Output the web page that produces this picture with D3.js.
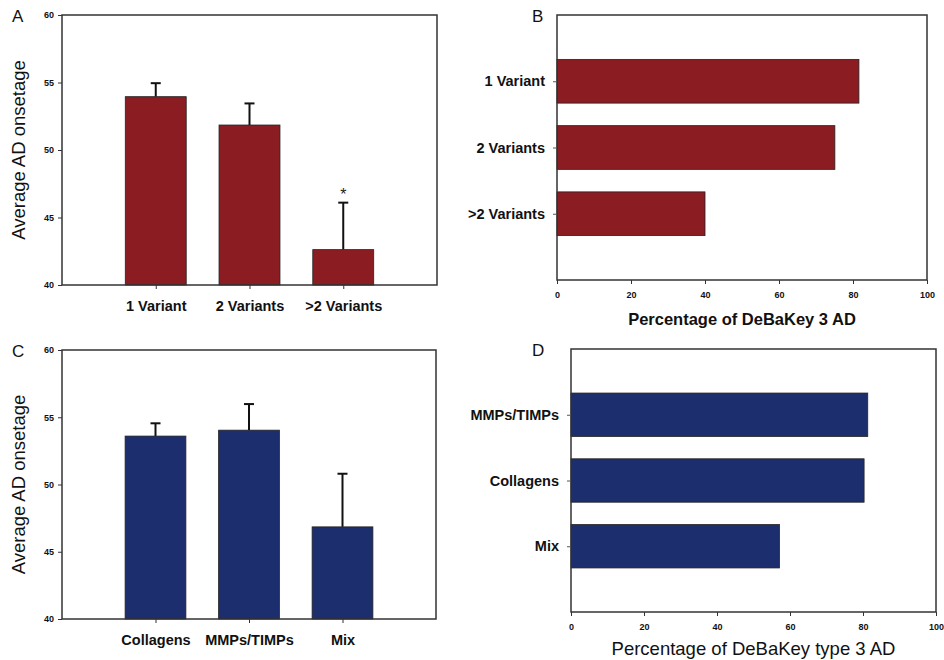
<!DOCTYPE html>
<html><head><meta charset="utf-8">
<script src="https://cdn.jsdelivr.net/npm/d3@7/dist/d3.min.js"></script>
<style>
html,body{margin:0;padding:0;background:#fff;}
svg{display:block;font-family:"Liberation Sans",Arial,sans-serif;}
</style></head><body>
<svg id="chart" width="944" height="660"></svg>
<script>
// Panel A data
const catsA = ["1 Variant", "2 Variants", ">2 Variants"];
const meanA = [53.95, 51.85, 42.62];
const errA  = [54.95, 53.45, 46.1];
// Panel B data
const catsB = ["1 Variant", "2 Variants", ">2 Variants"];
const pctB  = [81.6, 75.1, 40.0];
// Panel C data
const catsC = ["Collagens", "MMPs/TIMPs", "Mix"];
const meanC = [53.6, 54.04, 46.85];
const errC  = [54.55, 55.98, 50.8];
// Panel D data
const catsD = ["MMPs/TIMPs", "Collagens", "Mix"];
const pctD  = [81.3, 80.3, 57.1];
// Axis ticks
const yTicksAge = [40, 45, 50, 55, 60];
const xTicksPct = [0, 20, 40, 60, 80, 100];

const RED = "#8a1c22", BLUE = "#1c2e6e";
const svg = d3.select("#chart");

function vbar(box, cats, means, errs, color, label, sigIdx) {
  const g = svg.append("g");
  const x = d3.scalePoint().domain(cats).range([box.l, box.r]).padding(1);
  const y = d3.scaleLinear().domain([40, 60]).range([box.b, box.t]);
  const bw = x.step() * 0.65;
  const data = cats.map((c, i) => ({c, m: means[i], e: errs[i]}));
  g.selectAll("line.err").data(data).join("line")
    .attr("x1", d => x(d.c)).attr("x2", d => x(d.c))
    .attr("y1", d => y(d.m)).attr("y2", d => y(d.e))
    .attr("stroke", "#111").attr("stroke-width", 2);
  g.selectAll("line.cap").data(data).join("line")
    .attr("x1", d => x(d.c) - 5).attr("x2", d => x(d.c) + 5)
    .attr("y1", d => y(d.e)).attr("y2", d => y(d.e))
    .attr("stroke", "#111").attr("stroke-width", 2);
  g.selectAll("rect.bar").data(data).join("rect")
    .attr("x", d => x(d.c) - bw / 2).attr("width", bw)
    .attr("y", d => y(d.m)).attr("height", d => y(40) - y(d.m))
    .attr("fill", color).attr("stroke", "#222").attr("stroke-width", 0.8);
  g.append("rect").attr("x", box.l).attr("y", box.t)
    .attr("width", box.r - box.l).attr("height", box.b - box.t)
    .attr("fill", "none").attr("stroke", "#333").attr("stroke-width", 1.5);
  const ya = g.append("g").attr("transform", `translate(${box.l},0)`)
    .call(d3.axisLeft(y).tickValues(yTicksAge).tickSize(4).tickPadding(4));
  ya.select(".domain").remove();
  ya.selectAll("line").attr("stroke", "#333");
  ya.selectAll("text").attr("font-size", 9).attr("font-weight", "bold").attr("fill", "#111");
  const xa = g.append("g").attr("transform", `translate(0,${box.b})`)
    .call(d3.axisBottom(x).tickSize(4).tickPadding(12));
  xa.select(".domain").remove();
  xa.selectAll("line").attr("stroke", "#333");
  xa.selectAll("text").attr("font-size", 14.5).attr("font-weight", "bold").attr("fill", "#111");
  g.append("text").attr("transform", `translate(${box.l - 37},${(box.t + box.b) / 2}) rotate(-90)`)
    .attr("text-anchor", "middle").attr("font-size", 18.5).attr("fill", "#111")
    .text("Average AD onsetage");
  if (sigIdx != null) {
    const d = data[sigIdx];
    g.append("text").attr("x", x(d.c)).attr("y", y(d.e) - 3)
      .attr("text-anchor", "middle").attr("font-size", 16).attr("fill", "#222").text("*");
  }
  g.append("text").attr("x", 12).attr("y", box.t + 7).attr("font-size", 17).attr("fill", "#111").text(label);
}

function hbar(box, cats, vals, color, label, title, bold) {
  const g = svg.append("g");
  const y = d3.scalePoint().domain(cats).range([box.t, box.b]).padding(1);
  const x = d3.scaleLinear().domain([0, 100]).range([box.l, box.r]);
  const bh = y.step() * 0.66;
  const data = cats.map((c, i) => ({c, v: vals[i]}));
  g.selectAll("rect.bar").data(data).join("rect")
    .attr("x", x(0)).attr("width", d => x(d.v) - x(0))
    .attr("y", d => y(d.c) - bh / 2).attr("height", bh)
    .attr("fill", color).attr("stroke", "#222").attr("stroke-width", 0.8);
  g.append("rect").attr("x", box.l).attr("y", box.t)
    .attr("width", box.r - box.l).attr("height", box.b - box.t)
    .attr("fill", "none").attr("stroke", "#333").attr("stroke-width", 1.5);
  const ya = g.append("g").attr("transform", `translate(${box.l},0)`)
    .call(d3.axisLeft(y).tickSize(4).tickPadding(8));
  ya.select(".domain").remove();
  ya.selectAll("line").attr("stroke", "#555");
  ya.selectAll("text").attr("font-size", 14.5).attr("font-weight", "bold").attr("fill", "#111");
  const xa = g.append("g").attr("transform", `translate(0,${box.b})`)
    .call(d3.axisBottom(x).tickValues(xTicksPct).tickSize(4).tickPadding(8));
  xa.select(".domain").remove();
  xa.selectAll("line").attr("stroke", "#333");
  xa.selectAll("text").attr("font-size", 9).attr("font-weight", "bold").attr("fill", "#111");
  g.append("text").attr("x", (box.l + box.r) / 2).attr("y", box.b + (bold ? 45 : 43))
    .attr("text-anchor", "middle").attr("font-size", bold ? 16.5 : 18.5)
    .attr("font-weight", bold ? "bold" : "normal").attr("fill", "#111").text(title);
  g.append("text").attr("x", 532).attr("y", box.t + 7).attr("font-size", 17).attr("fill", "#111").text(label);
}

vbar({l: 62, r: 437, t: 15, b: 285}, catsA, meanA, errA, RED, "A", 2);
hbar({l: 557, r: 927, t: 15, b: 280}, catsB, pctB, RED, "B", "Percentage of DeBaKey 3 AD", true);
vbar({l: 62, r: 436, t: 350, b: 619}, catsC, meanC, errC, BLUE, "C", null);
hbar({l: 571, r: 936, t: 349, b: 612}, catsD, pctD, BLUE, "D", "Percentage of DeBaKey type 3 AD", false);
</script>
</body></html>
